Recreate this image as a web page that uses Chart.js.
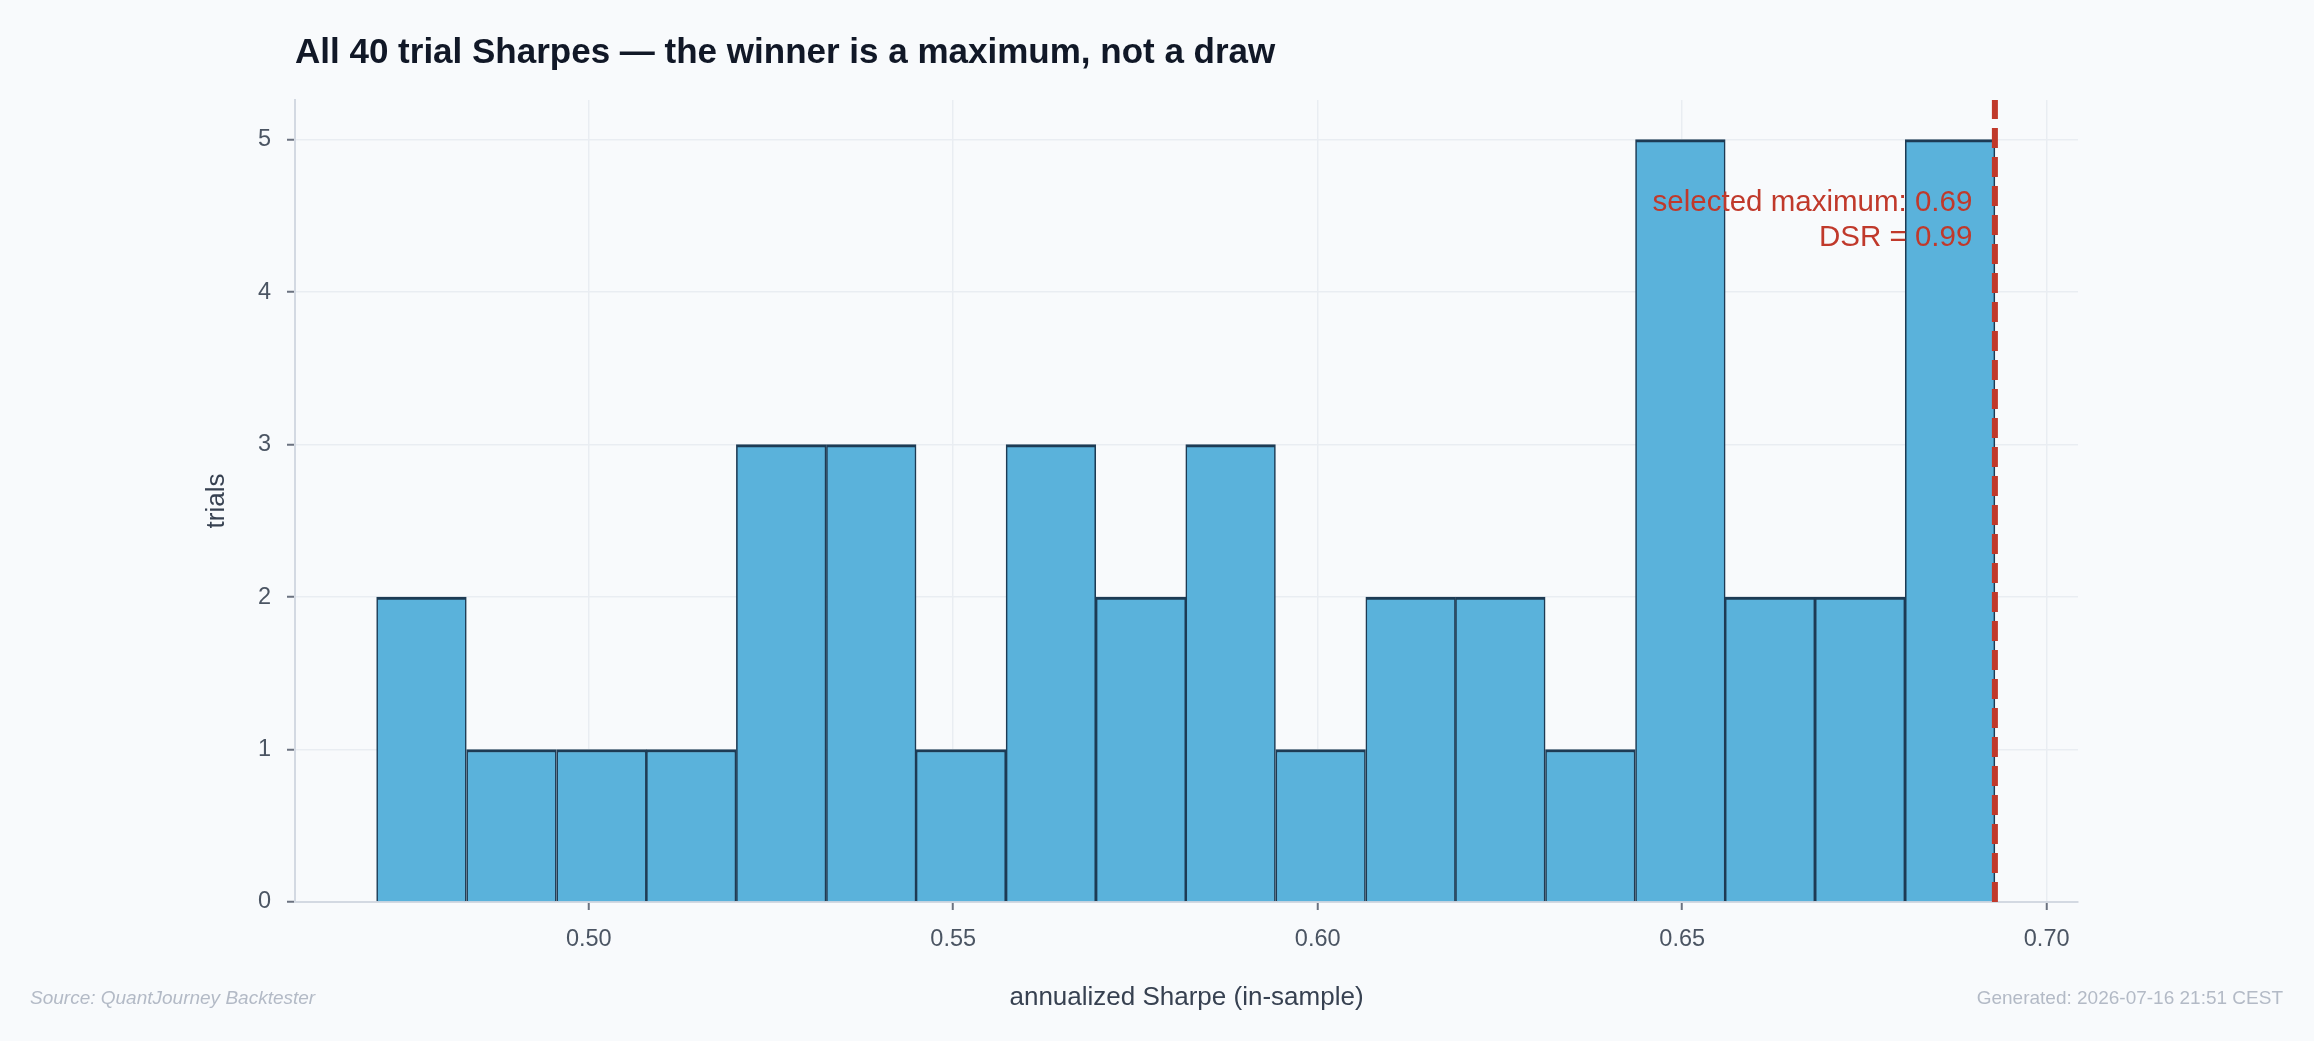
<!DOCTYPE html>
<html>
<head>
<meta charset="utf-8">
<script src="https://cdn.jsdelivr.net/npm/chart.js@4/dist/chart.umd.min.js"></script>
<style>
  html, body { margin: 0; padding: 0; background: #f8fafc; }
  #wrap { width: 2314px; height: 1041px; }
</style>
</head>
<body>
<div id="wrap"><canvas id="sharpeHist" width="2314" height="1041"></canvas></div>
<script>
// histogram bin edges (annualized Sharpe) and trial counts per bin
const binEdges = [0.4709, 0.4832, 0.4956, 0.5079, 0.5202, 0.5326, 0.5449, 0.5572, 0.5696, 0.5819,
  0.5942, 0.6066, 0.6189, 0.6312, 0.6436, 0.6559, 0.6682, 0.6806, 0.6929];
const trialCounts = [2, 1, 1, 1, 3, 3, 1, 3, 2, 3, 1, 2, 2, 1, 5, 2, 2, 5];

const selectedMax = 0.6929;
const xRange = [0.4597, 0.7043];
const yRange = [0, 5.26];
const xTicks = [0.50, 0.55, 0.60, 0.65, 0.70];
const yTicks = [0, 1, 2, 3, 4, 5];

const titleText = "All 40 trial Sharpes \u2014 the winner is a maximum, not a draw";
const xTitle = "annualized Sharpe (in-sample)";
const yTitle = "trials";
const annotLines = ["selected maximum: 0.69", "DSR = 0.99"];
const annotX = 0.6898;
const annotY = [4.53, 4.30];
const sourceText = "Source: QuantJourney Backtester";
const generatedText = "Generated: 2026-07-16 21:51 CEST";

const FONT = "'Liberation Sans', Arial, Helvetica, sans-serif";
Chart.defaults.font.family = FONT;

const bars = trialCounts.map((c, i) => ({ x: (binEdges[i] + binEdges[i + 1]) / 2, y: c }));

const textLayer = {
  id: "textLayer",
  afterDatasetsDraw(chart) {
    const { ctx, scales } = chart;
    ctx.save();
    ctx.fillStyle = "#c0392b";
    ctx.font = "29.5px " + FONT;
    ctx.textAlign = "right";
    ctx.textBaseline = "alphabetic";
    annotLines.forEach((t, i) => {
      ctx.fillText(t, scales.x.getPixelForValue(annotX), scales.y.getPixelForValue(annotY[i]));
    });
    ctx.restore();
  },
  afterDraw(chart) {
    const { ctx, chartArea } = chart;
    ctx.save();
    ctx.textBaseline = "alphabetic";
    ctx.fillStyle = "#111827";
    ctx.font = "bold 35px " + FONT;
    ctx.textAlign = "left";
    ctx.fillText(titleText, chartArea.left, 63);

    ctx.fillStyle = "#b3bac6";
    ctx.font = "italic 19px " + FONT;
    ctx.fillText(sourceText, 30, 1004);
    ctx.font = "19px " + FONT;
    ctx.textAlign = "right";
    ctx.fillText(generatedText, 2283, 1004);
    ctx.restore();
  }
};

new Chart(document.getElementById("sharpeHist"), {
  type: "bar",
  data: {
    datasets: [
      {
        type: "line",
        data: [{ x: selectedMax, y: yRange[0] }, { x: selectedMax, y: yRange[1] }],
        borderColor: "#c0392b",
        borderWidth: 6,
        borderDash: [20, 9],
        pointRadius: 0,
        fill: false,
        order: 0
      },
      {
        data: bars,
        backgroundColor: "#5ab2db",
        borderColor: "#1d3b54",
        borderWidth: { top: 3, left: 1.6, right: 1.6, bottom: 0 },
        borderSkipped: false,
        barPercentage: 1,
        categoryPercentage: 1,
        order: 1
      }
    ]
  },
  options: {
    responsive: false,
    devicePixelRatio: 1,
    animation: false,
    layout: { padding: { left: 190, right: 236, top: 100, bottom: 0 } },
    plugins: { legend: { display: false }, title: { display: false }, tooltip: { enabled: false } },
    scales: {
      x: {
        type: "linear",
        min: xRange[0],
        max: xRange[1],
        offset: false,
        afterFit: (s) => { s.height = 139; },
        afterBuildTicks: (s) => { s.ticks = xTicks.map((v) => ({ value: v })); },
        grid: { offset: false, color: "#e9edf2", lineWidth: 1.5, tickLength: 8, tickColor: "#6b7280", tickWidth: 2 },
        border: { color: "#d3d9e2", width: 2 },
        ticks: { padding: 15, color: "#4b5563", font: { size: 23.5 }, callback: (v) => Number(v).toFixed(2) },
        title: { display: true, text: xTitle, color: "#374151", font: { size: 26 }, padding: { top: 0, bottom: 28 } }
      },
      y: {
        min: yRange[0],
        max: yRange[1],
        afterFit: (s) => { s.width = 105; },
        afterBuildTicks: (s) => { s.ticks = yTicks.map((v) => ({ value: v })); },
        grid: { color: "#e9edf2", lineWidth: 1.5, tickLength: 8, tickColor: "#6b7280", tickWidth: 2 },
        border: { color: "#d3d9e2", width: 2 },
        ticks: { padding: 16, color: "#4b5563", font: { size: 23.5 } },
        title: { display: true, text: yTitle, color: "#374151", font: { size: 26 }, padding: { top: 11, bottom: 0 } }
      }
    }
  },
  plugins: [textLayer]
});
</script>
</body>
</html>
